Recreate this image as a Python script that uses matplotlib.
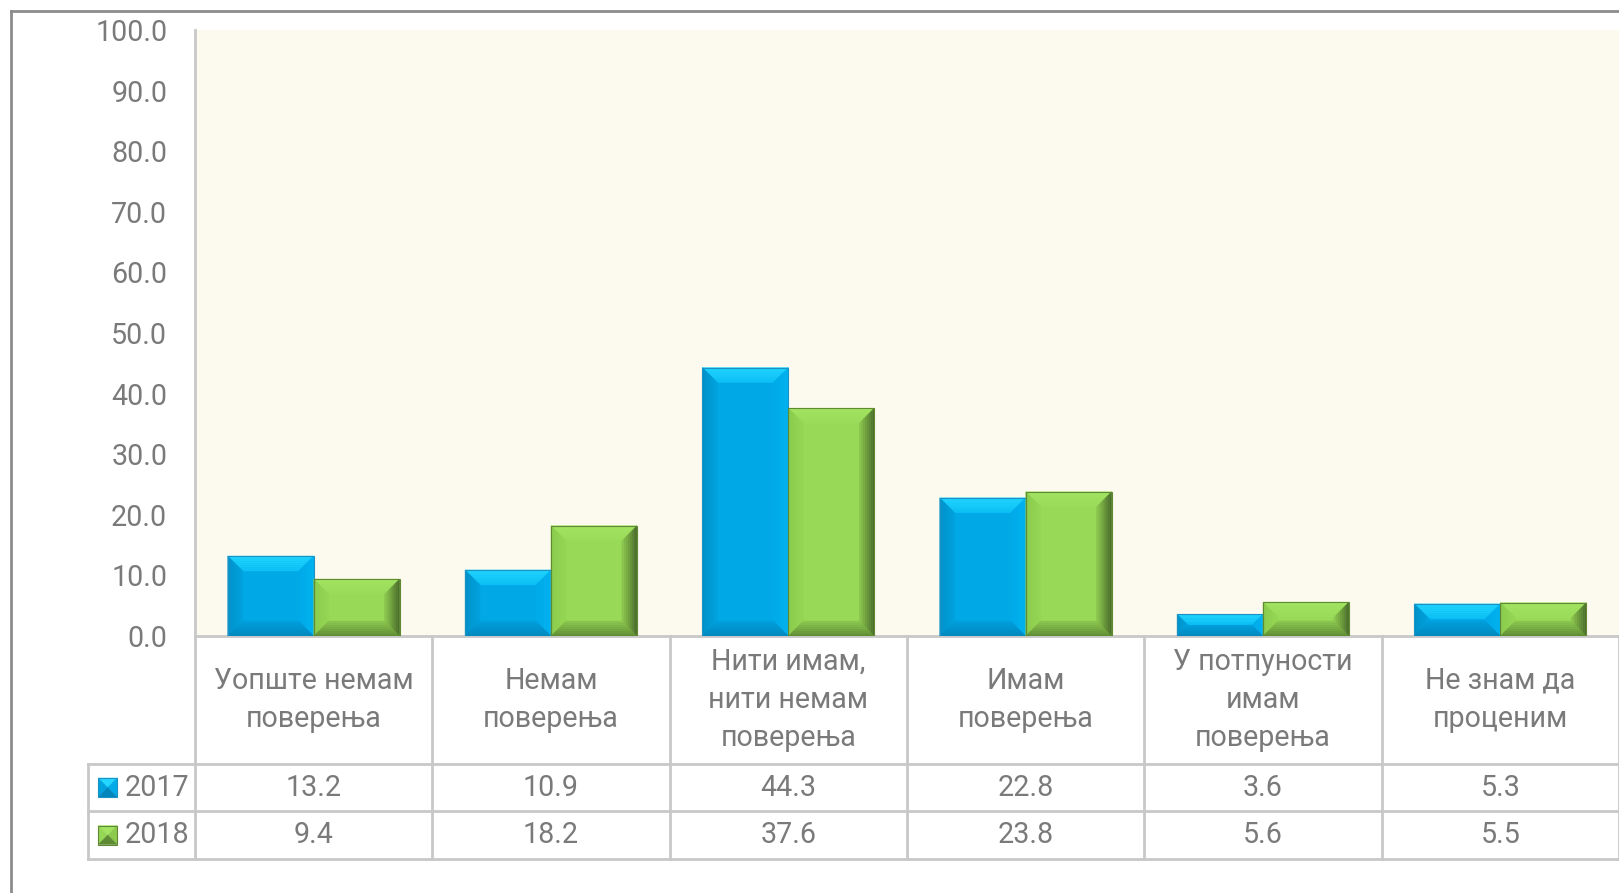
import matplotlib
matplotlib.use("Agg")
import matplotlib.pyplot as plt
from matplotlib.patches import Polygon, Rectangle
from matplotlib.lines import Line2D
from matplotlib.colors import to_rgb
import matplotlib.transforms as mtransforms

# ---- data ----
categories = [
    "Уопште немам\nповерења",
    "Немам\nповерења",
    "Нити имам,\nнити немам\nповерења",
    "Имам\nповерења",
    "У потпуности\nимам\nповерења",
    "Не знам да\nпроценим",
]
series_names = ["2017", "2018"]
values_2017 = [13.2, 10.9, 44.3, 22.8, 3.6, 5.3]
values_2018 = [9.4, 18.2, 37.6, 23.8, 5.6, 5.5]
y_ticks = [0, 10, 20, 30, 40, 50, 60, 70, 80, 90, 100]

# ---- styling ----
FONT = "Roboto"
TXT = "#7a7a7a"
GRID = "#c8c8c8"
FS = 20.6
# each bevel side: (colour at the outer edge, colour where it meets the face)
palettes = {
    "2017": dict(face="#00a8e6", edge="#1a93c4",
                 top=("#22d6ff", "#0cc0f6"), left=("#0090c8", "#00a2de"),
                 right=("#00b2f0", "#00aae8"), bottom=("#0086bc", "#00a0dc")),
    "2018": dict(face="#98da58", edge="#5f8a33",
                 top=("#a2e462", "#9bdd5b"), left=("#8acb4c", "#95d655"),
                 right=("#46682a", "#8ec94f"), bottom=("#5e8a33", "#8cc84f")),
}
plt.rcParams["font.family"] = [FONT, "DejaVu Sans"]

W, H = 1619, 893
fig = plt.figure(figsize=(W / 100, H / 100), dpi=100)
fig.patch.set_facecolor("white")

ax_left, ax_bottom = 195 / W, 1 - 636 / H
ax_top = 1 - 30 / H
ax = fig.add_axes([ax_left, ax_bottom, 1.0 - ax_left, ax_top - ax_bottom])
ax.set_facecolor("#fcf9ee")
n = len(categories)
ax.set_xlim(-0.5, n - 0.5)
ax.set_ylim(0, 100)
ax.set_yticks(y_ticks)
ax.set_yticklabels([f"{v:.1f}" for v in y_ticks], color=TXT, fontsize=FS)
ax.tick_params(axis="y", length=0, pad=20)
ax.set_xticks([])
for s in ["top", "right"]:
    ax.spines[s].set_visible(False)
for s in ["left", "bottom"]:
    ax.spines[s].set_color(GRID)
    ax.spines[s].set_linewidth(2)

# pixel size of one data unit, used for the constant-width bevels
ax_w_px = (1.0 - ax_left) * W
ax_h_px = (ax_top - ax_bottom) * H
px_x = ax_w_px / n
px_y = ax_h_px / 100.0
BEVEL_PX = 15
STEPS = 8


def mix(c0, c1, t):
    a, b = to_rgb(c0), to_rgb(c1)
    return tuple(a[j] + (b[j] - a[j]) * t for j in range(3))


def bevel_bar(x0, x1, h, pal):
    w_px = (x1 - x0) * px_x
    h_px = h * px_y
    b = min(BEVEL_PX, w_px / 2, h_px / 2)
    y0, y1 = 0.0, h
    ax.add_patch(Rectangle((x0, y0), x1 - x0, h, facecolor=pal["face"],
                           edgecolor="none", zorder=3))
    for k in range(STEPS):
        d0 = b * k / STEPS
        d1 = b * (k + 1) / STEPS
        t = (k + 0.5) / STEPS
        ox0, ox1 = x0 + d0 / px_x, x1 - d0 / px_x
        oy0, oy1 = y0 + d0 / px_y, y1 - d0 / px_y
        ix0, ix1 = x0 + d1 / px_x, x1 - d1 / px_x
        iy0, iy1 = y0 + d1 / px_y, y1 - d1 / px_y
        sides = [
            ([(ox0, oy1), (ox1, oy1), (ix1, iy1), (ix0, iy1)], pal["top"]),
            ([(ox0, oy0), (ox0, oy1), (ix0, iy1), (ix0, iy0)], pal["left"]),
            ([(ox1, oy0), (ox1, oy1), (ix1, iy1), (ix1, iy0)], pal["right"]),
            ([(ox0, oy0), (ox1, oy0), (ix1, iy0), (ix0, iy0)], pal["bottom"]),
        ]
        for pts, (c_out, c_in) in sides:
            c = mix(c_out, c_in, t)
            ax.add_patch(Polygon(pts, closed=True, facecolor=c, edgecolor=c,
                                 linewidth=0.3, zorder=3))
    ax.add_patch(Rectangle((x0, y0), x1 - x0, h, facecolor="none",
                           edgecolor=pal["edge"], linewidth=0.8, zorder=4))


bar_w = 0.362
for k, (name, vals) in enumerate(zip(series_names, [values_2017, values_2018])):
    for idx, v in enumerate(vals):
        x0 = idx - bar_w if k == 0 else idx
        bevel_bar(x0, x0 + bar_w, v, palettes[name])

# ---- data table under the plot ----
tr = mtransforms.blended_transform_factory(ax.transData, ax.transAxes)
LEG_LEFT = -0.95
y_head = -0.211
y_r1 = -0.289
y_r2 = -0.368


def hline(xa, xb, y):
    ax.add_line(Line2D([xa, xb], [y, y], transform=tr, color=GRID, lw=2, clip_on=False))


def vline(x, ya, yb):
    ax.add_line(Line2D([x, x], [ya, yb], transform=tr, color=GRID, lw=2, clip_on=False))


for b in range(n + 1):
    vline(b - 0.5, 0, y_r2)
vline(LEG_LEFT, y_head, y_r2)
for y in (y_head, y_r1, y_r2):
    hline(LEG_LEFT, n - 0.5, y)

for idx, lab in enumerate(categories):
    ax.text(idx, y_head / 2, lab, transform=tr, ha="center", va="center",
            fontsize=FS, color=TXT, linespacing=1.46, clip_on=False)

row_centers = [(y_head + y_r1) / 2, (y_r1 + y_r2) / 2]
for name, vals, yc in zip(series_names, [values_2017, values_2018], row_centers):
    for idx, v in enumerate(vals):
        ax.text(idx, yc, f"{v:.1f}", transform=tr, ha="center", va="center",
                fontsize=FS, color=TXT, clip_on=False)
    # legend key: small pyramid-style square
    pal = palettes[name]
    mx0 = LEG_LEFT + 10 / px_x
    mx1 = mx0 + 19 / px_x
    ms = 19 / ax_h_px
    my0, my1 = yc - ms / 2, yc + ms / 2
    cx, cy = (mx0 + mx1) / 2, yc
    tris = [
        ([(mx0, my1), (mx1, my1), (cx, cy)], pal["top"][0]),
        ([(mx0, my0), (mx0, my1), (cx, cy)], pal["left"][1]),
        ([(mx1, my0), (mx1, my1), (cx, cy)], pal["right"][1]),
        ([(mx0, my0), (mx1, my0), (cx, cy)], pal["bottom"][0]),
    ]
    for pts, c in tris:
        ax.add_patch(Polygon(pts, closed=True, transform=tr, facecolor=c, edgecolor=c,
                             lw=0.3, clip_on=False, zorder=4))
    ax.add_patch(Rectangle((mx0, my0), mx1 - mx0, my1 - my0, transform=tr,
                           facecolor="none", edgecolor=pal["edge"], lw=0.8,
                           clip_on=False, zorder=5))
    ax.text(mx1 + 7 / px_x, yc, name, transform=tr, ha="left", va="center",
            fontsize=FS, color=TXT, clip_on=False)

# ---- outer chart frame ----
fig.add_artist(Line2D([11 / W, 1.0], [1 - 11 / H, 1 - 11 / H], transform=fig.transFigure,
                      color="#8c8c8c", lw=2))
fig.add_artist(Line2D([11 / W, 11 / W], [0, 1 - 11 / H], transform=fig.transFigure,
                      color="#8c8c8c", lw=2))

fig.savefig("out.png", dpi=100, facecolor="white")
